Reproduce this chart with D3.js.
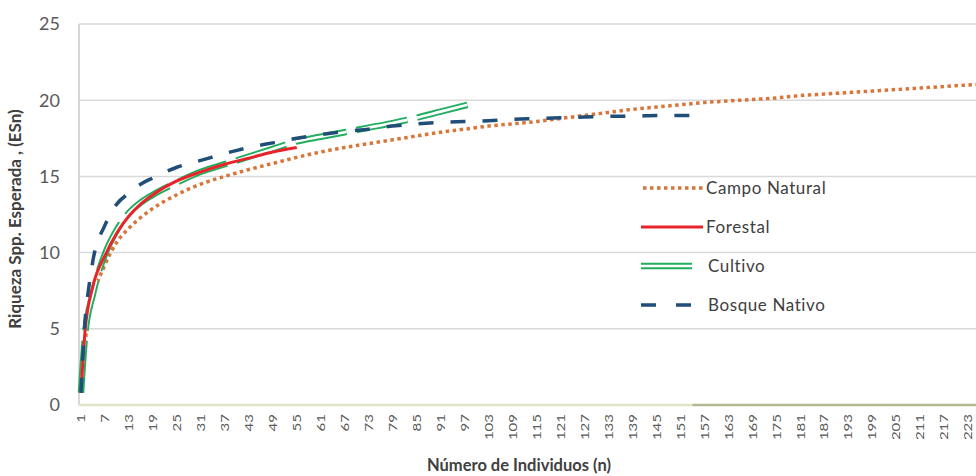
<!DOCTYPE html>
<html>
<head>
<meta charset="utf-8">
<script src="https://cdn.jsdelivr.net/npm/d3@7"></script>
<style>
  html, body { margin: 0; padding: 0; background: #fff; overflow: hidden; }
  svg { display: block; font-family: Lato, "Open Sans", sans-serif; }
</style>
</head>
<body>
<svg id="chart" width="976" height="476"></svg>
<script>
// ---- Data ----
const seriesNames = ["Campo Natural", "Forestal", "Cultivo", "Bosque Nativo"];

const campoNatural = [
  [1,0.8],[2,4.0],[4,7.0],[7,9.2],[10,10.7],[13,11.6],[19,12.9],[25,13.8],[31,14.5],[37,15.0],
  [43,15.45],[49,15.85],[55,16.25],[61,16.6],[67,16.9],[73,17.15],[79,17.4],[85,17.65],[91,17.9],
  [97,18.1],[103,18.3],[109,18.45],[115,18.6],[121,18.8],[127,19.0],[133,19.2],[139,19.4],
  [145,19.55],[151,19.7],[157,19.85],[163,19.95],[169,20.05],[175,20.15],[181,20.3],[187,20.4],
  [193,20.5],[199,20.6],[205,20.7],[211,20.8],[217,20.9],[223,21.0],[226,21.05]
];
const forestal = [
  [1,0.8],[2,4.8],[4,7.8],[7,9.8],[10,11.3],[13,12.4],[16,13.2],[19,13.8],[25,14.7],[31,15.3],
  [37,15.8],[43,16.2],[49,16.6],[55,16.9]
];
const cultivo = [
  [1,0.8],[2,4.5],[4,7.3],[7,9.9],[10,11.5],[13,12.6],[16,13.3],[19,13.8],[25,14.6],[31,15.3],
  [37,15.8],[43,16.3],[49,16.8],[55,17.3],[61,17.6],[67,17.9],[73,18.2],[79,18.5],[85,18.85],
  [91,19.25],[97,19.65],[100,19.85]
];
const bosqueNativo = [
  [1,0.8],[2,5.5],[3,7.8],[4,9.5],[7,11.8],[10,13.2],[13,13.9],[16,14.5],[19,14.9],[25,15.6],
  [31,16.05],[37,16.5],[43,16.9],[49,17.2],[55,17.5],[61,17.75],[67,17.95],[73,18.1],[79,18.3],
  [85,18.45],[91,18.55],[97,18.6],[103,18.65],[109,18.75],[115,18.8],[121,18.85],[127,18.9],
  [133,18.95],[139,18.95],[145,19.0],[151,19.0],[154,19.0]
];

const xTickLabels = ["1","7","13","19","25","31","37","43","49","55","61","67","73","79","85","91","97",
  "103","109","115","121","127","133","139","145","151","157","163","169","175","181","187","193",
  "199","205","211","217","223"];
const yTickLabels = [0, 5, 10, 15, 20, 25];

const yTitle = "Riqueza Spp. Esperada , (ESn)";
const xTitle = "Número de Individuos (n)";

// ---- Layout ----
const svg = d3.select("#chart");
const plotLeft = 79, plotTop = 24, plotBottom = 405, plotRightEdge = 982;

const x = d3.scaleLinear().domain([0.5, 226.5]).range([plotLeft, plotRightEdge]);
const y = d3.scaleLinear().domain([0, 25]).range([plotBottom, plotTop]);

// gridlines
svg.append("g").selectAll("line").data(yTickLabels.filter(d => d > 0)).join("line")
  .attr("x1", plotLeft).attr("x2", 976)
  .attr("y1", d => y(d)).attr("y2", d => y(d))
  .attr("stroke", "#d9d9d9").attr("stroke-width", 1.5);

// left axis line
svg.append("line").attr("x1", plotLeft).attr("x2", plotLeft)
  .attr("y1", y(25)).attr("y2", y(0)).attr("stroke", "#c8c8c8").attr("stroke-width", 1.5);

// baseline (pale, darker after last Bosque Nativo point)
const lastBosque = bosqueNativo[bosqueNativo.length - 1][0];
svg.append("line").attr("x1", plotLeft).attr("x2", x(lastBosque))
  .attr("y1", y(0)).attr("y2", y(0)).attr("stroke", "#dfe3c4").attr("stroke-width", 2.5);
svg.append("line").attr("x1", x(lastBosque)).attr("x2", 976)
  .attr("y1", y(0)).attr("y2", y(0)).attr("stroke", "#b3b890").attr("stroke-width", 2.5);

// y tick labels
svg.append("g").selectAll("text").data(yTickLabels).join("text")
  .attr("x", 60).attr("y", d => y(d)).attr("dy", "0.35em")
  .attr("text-anchor", "end").attr("font-size", 18).attr("fill", "#595959")
  .text(d => d);

// x tick labels (rotated)
svg.append("g").selectAll("text").data(xTickLabels).join("text")
  .attr("transform", d => `translate(${x(+d)},${414}) rotate(-90) scale(1.25,1)`)
  .attr("dy", "0.36em").attr("text-anchor", "end")
  .attr("font-size", 12).attr("fill", "#595959")
  .text(d => d);

// axis titles
svg.append("text")
  .attr("transform", `translate(21,219) rotate(-90)`)
  .attr("text-anchor", "middle").attr("font-size", 17).attr("font-weight", "bold")
  .attr("fill", "#404040").text(yTitle);
svg.append("text")
  .attr("x", 519).attr("y", 471).attr("text-anchor", "middle")
  .attr("font-size", 16.5).attr("font-weight", "bold").attr("fill", "#404040").text(xTitle);

// ---- Lines ----
const line = d3.line().x(d => x(d[0])).y(d => y(d[1])).curve(d3.curveMonotoneX);
const g = svg.append("g");

// Campo Natural - dotted orange
g.append("path").attr("d", line(campoNatural)).attr("fill", "none")
  .attr("stroke", "#d8763a").attr("stroke-width", 3.5).attr("stroke-dasharray", "3.5,3.5");
// Cultivo - green double line
g.append("path").attr("d", line(cultivo)).attr("fill", "none")
  .attr("stroke", "#22ad5f").attr("stroke-width", 6.5).attr("stroke-dasharray", "52,10");
g.append("path").attr("d", line(cultivo)).attr("fill", "none")
  .attr("stroke", "#ffffff").attr("stroke-width", 2.6).attr("stroke-dasharray", "52,10");
// Forestal - red solid
g.append("path").attr("d", line(forestal)).attr("fill", "none")
  .attr("stroke", "#e8242b").attr("stroke-width", 3);
// Bosque Nativo - dark blue dashed
g.append("path").attr("d", line(bosqueNativo)).attr("fill", "none")
  .attr("stroke", "#1f4e79").attr("stroke-width", 3.5).attr("stroke-dasharray", "15,17");

// ---- Legend ----
const legendY = [188, 227, 266, 305];
const lg = svg.append("g");
seriesNames.forEach((name, i) => {
  const ly = legendY[i];
  if (i === 0) {
    lg.append("line").attr("x1", 643).attr("x2", 705).attr("y1", ly).attr("y2", ly)
      .attr("stroke", "#d8763a").attr("stroke-width", 3.5).attr("stroke-dasharray", "3.5,3.5");
  } else if (i === 1) {
    lg.append("line").attr("x1", 641).attr("x2", 703).attr("y1", ly).attr("y2", ly)
      .attr("stroke", "#e8242b").attr("stroke-width", 3);
  } else if (i === 2) {
    lg.append("line").attr("x1", 641).attr("x2", 692).attr("y1", ly).attr("y2", ly)
      .attr("stroke", "#22ad5f").attr("stroke-width", 6.5);
    lg.append("line").attr("x1", 641).attr("x2", 692).attr("y1", ly).attr("y2", ly)
      .attr("stroke", "#ffffff").attr("stroke-width", 2.6);
  } else {
    lg.append("line").attr("x1", 641).attr("x2", 691).attr("y1", ly).attr("y2", ly)
      .attr("stroke", "#1f4e79").attr("stroke-width", 3.5).attr("stroke-dasharray", "15,20");
  }
  lg.append("text").attr("x", i >= 2 ? 708 : 706).attr("y", ly).attr("dy", "0.35em")
    .attr("font-size", 17).attr("letter-spacing", 0.6).attr("fill", "#404040").text(name);
});
</script>
</body>
</html>
